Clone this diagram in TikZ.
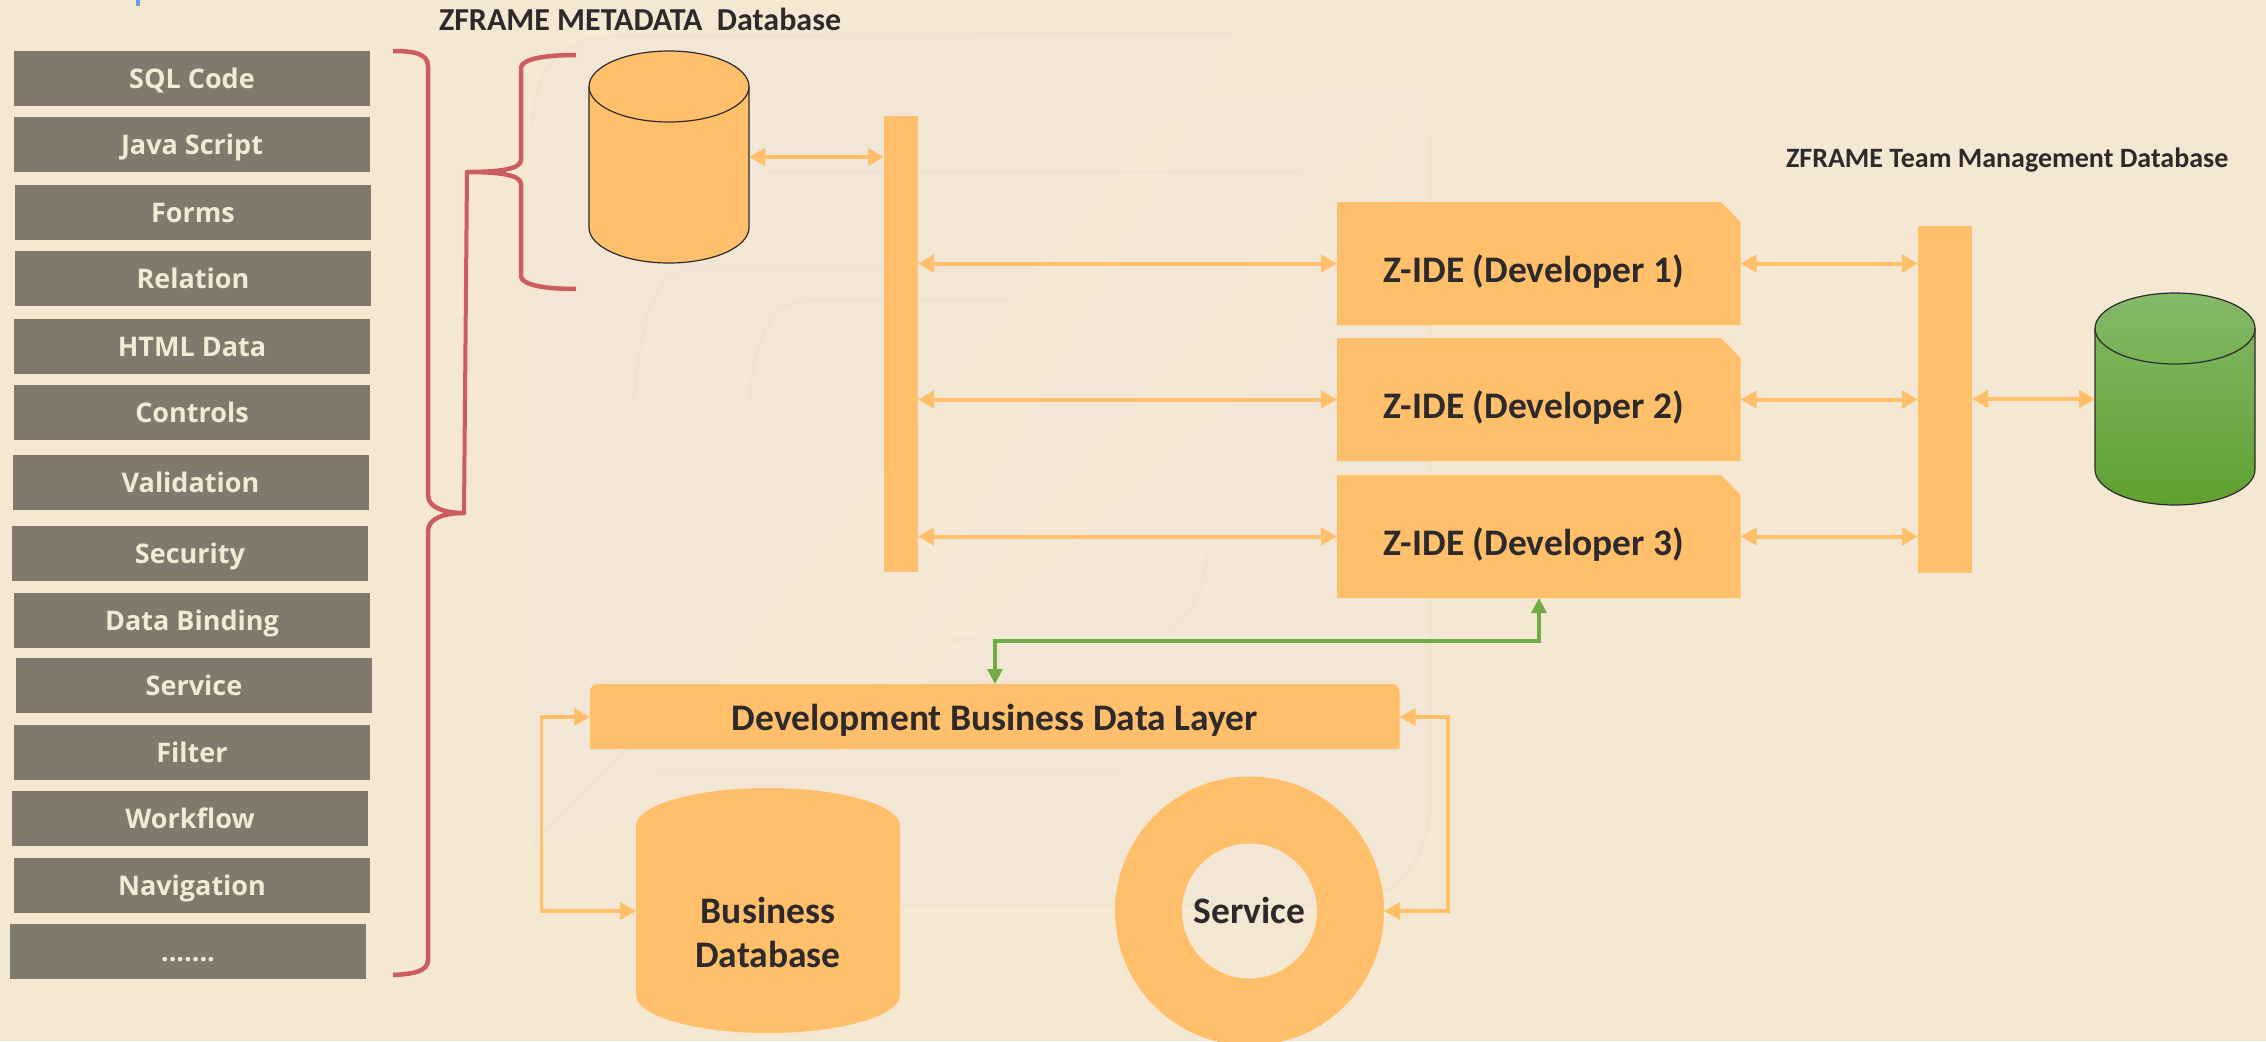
\documentclass[tikz,border=0pt]{standalone}
\usepackage{fontspec}
\setmainfont{Carlito}
\newfontfamily\boxfont{Open Sans}
\usetikzlibrary{arrows.meta}
\definecolor{pagebg}{HTML}{F5E8D3}
\definecolor{wmdark}{HTML}{F2E7D4}
\definecolor{wmline}{HTML}{EFE4D1}
\definecolor{orangefill}{HTML}{FFBF6B}
\definecolor{greybox}{HTML}{7F7A6D}
\definecolor{creamtext}{HTML}{F5E9D5}
\definecolor{darktext}{HTML}{2E2A2B}
\definecolor{bracered}{HTML}{CB5C5F}
\definecolor{greenline}{HTML}{70AD47}
\definecolor{tickblue}{HTML}{6D9EEB}
\definecolor{cyltop}{HTML}{84B968}
\definecolor{cylbot}{HTML}{5FA030}
\tikzset{
  anchorbox/.style={inner sep=0pt,outer sep=0pt,rectangle},
  greyitem/.style={anchorbox,fill=greybox,text=creamtext,minimum width=356pt,minimum height=55pt,text height=20.5pt,text depth=0pt,font=\boxfont\fontsize{27}{30}\selectfont\bfseries},
  titletext/.style={anchorbox,text=darktext,font=\fontsize{28}{32}\selectfont\bfseries},
  orangetext/.style={anchorbox,text=darktext,font=\fontsize{37.5}{44}\selectfont\bfseries,align=center},
  devtext/.style={orangetext,minimum width=403.5pt,minimum height=123pt,text height=38pt,text depth=0pt},
  dbl/.style={draw=orangefill,line width=4pt,{Triangle[length=16pt,width=17pt]}-{Triangle[length=16pt,width=17pt]}},
  dblgreen/.style={draw=greenline,line width=3.5pt,{Triangle[length=15pt,width=15pt]}-{Triangle[length=15pt,width=15pt]}},
  redline/.style={draw=bracered,line width=4.5pt,line join=round},
  barbox/.style={anchorbox,fill=orangefill},
  cylline/.style={draw=darktext,line width=1.2pt},
  wmstripe/.style={fill=pagebg,opacity=.7},
  wmedge/.style={draw=wmline,line width=3pt,line join=round}
}
\begin{document}
\begin{tikzpicture}[x=1pt,y=-1pt]
\useasboundingbox (0,0) rectangle (2266,1041);
\fill[pagebg] (0,0) rectangle (2266,1041);
% faint watermark
\fill[wmdark] (532,130) .. controls (532,70) and (560,36) .. (620,36) -- (1233,33) -- (1205,95) -- (1400,88)
  .. controls (1425,80) and (1430,100) .. (1430,130) -- (1430,800)
  .. controls (1430,870) and (1390,905) .. (1320,905) -- (700,905) -- (640,820) -- (538,845) -- (532,800) -- cycle;
\fill[wmstripe] (1160,120) -- (1195,120) -- (885,683) -- (715,690) -- (745,640) -- cycle;
\fill[wmstripe] (1393,110) -- (1418,100) -- (1290,350) -- (825,770) -- (880,690) -- cycle;
\draw[wmedge] (768,172) -- (1303,172);
\draw[wmedge] (634,400) .. controls (640,330) and (650,275) .. (690,267) -- (1030,267);
\draw[wmedge] (749,400) .. controls (755,345) and (765,303) .. (810,300) -- (1010,300);
\draw[wmedge] (653,770) -- (1125,770);
\draw[wmedge] (946,640) -- (1157,640) .. controls (1190,620) and (1205,590) .. (1208,550);
\draw[wmedge] (532,845) -- (634,743);
\draw[wmedge] (532,130) .. controls (532,70) and (560,36) .. (620,36) -- (1233,33);
\draw[wmedge] (700,905) -- (1320,905) .. controls (1390,905) and (1430,870) .. (1430,800) -- (1430,130);

\fill[tickblue] (136,0) rectangle (140,6);

% grey list
\node[greyitem] (i1) at (192,78.5) {SQL Code};
\node[greyitem] (i2) at (192,144.5) {Java Script};
\node[greyitem] (i3) at (193,212.5) {Forms};
\node[greyitem] (i4) at (193,278.5) {Relation};
\node[greyitem] (i5) at (192,346.5) {HTML Data};
\node[greyitem] (i6) at (192,412.5) {Controls};
\node[greyitem] (i7) at (190.5,482.5) {Validation};
\node[greyitem] (i8) at (190,553.5) {Security};
\node[greyitem] (i9) at (192,620.5) {Data Binding};
\node[greyitem] (i10) at (194,685.5) {Service};
\node[greyitem] (i11) at (192,752.5) {Filter};
\node[greyitem] (i12) at (190,818.5) {Workflow};
\node[greyitem] (i13) at (192,885.5) {Navigation};
\node[greyitem] (i14) at (188,951.5) {.......};

% braces
\draw[redline] (393,51) .. controls (412,51) and (428,53) .. (428,66) -- (428,495)
  .. controls (428,508) and (445,513) .. (464,513) .. controls (445,513) and (428,518) .. (428,531)
  -- (428,960) .. controls (428,972) and (412,974) .. (393,975);
\draw[redline] (576,55) .. controls (545,55) and (521,59) .. (521,68) -- (521,160)
  .. controls (521,170) and (495,172) .. (467,172) .. controls (495,172) and (521,174) .. (521,184)
  -- (521,276) .. controls (521,285) and (545,289) .. (576,289);
\draw[redline,line width=4pt] (467,172) -- (464,513);

% metadata database
\node[anchorbox,minimum width=160pt,minimum height=212pt] (meta) at (669,157) {};
\filldraw[fill=orangefill,cylline] (589,86.5) -- (589,227.5) arc[start angle=180,end angle=0,x radius=80,y radius=35.5] -- (749,86.5) arc[start angle=0,end angle=-180,x radius=80,y radius=35.5] -- cycle;
\draw[cylline] (589,86.5) arc[start angle=180,end angle=0,x radius=80,y radius=35.5];
\node[titletext,anchor=west,font=\fontsize{32}{36}\selectfont\bfseries] (metatitle) at (439,19) {ZFRAME METADATA\ \ Database};

% bars
\node[barbox,minimum width=34pt,minimum height=456pt] (bar1) at (901,344) {};
\node[barbox,minimum width=54pt,minimum height=347pt] (bar2) at (1945,399.5) {};

% developer boxes
\foreach \yt in {202,338,475}{
  \fill[orangefill] (1337,\yt) -- (1721,\yt) -- (1740.5,\yt+20) -- (1740.5,\yt+123) -- (1337,\yt+123) -- cycle;
}
\node[devtext] (dev1) at (1538.75,263.5) {\kern-10pt Z-IDE (Developer 1)};
\node[devtext] (dev2) at (1538.75,399.5) {\kern-10pt Z-IDE (Developer 2)};
\node[devtext] (dev3) at (1538.75,536.5) {\kern-10pt Z-IDE (Developer 3)};

% team database
\node[anchorbox,minimum width=160pt,minimum height=212pt] (team) at (2175,399) {};
\shade[top color=cyltop,bottom color=cylbot] (2095,328.5) -- (2095,469.5) arc[start angle=180,end angle=0,x radius=80,y radius=35.5] -- (2255,328.5) arc[start angle=0,end angle=-180,x radius=80,y radius=35.5] -- cycle;
\draw[cylline] (2095,328.5) -- (2095,469.5) arc[start angle=180,end angle=0,x radius=80,y radius=35.5] -- (2255,328.5) arc[start angle=0,end angle=-180,x radius=80,y radius=35.5] -- cycle;
\draw[cylline] (2095,328.5) arc[start angle=180,end angle=0,x radius=80,y radius=35.5];
\node[titletext,anchor=west] (teamtitle) at (1786,160) {ZFRAME Team Management Database};

% business layer
\fill[orangefill] (590,749) -- (590,692) .. controls (590,687) and (593,684) .. (598,684) -- (1392,684) .. controls (1397,684) and (1399.5,687) .. (1399.5,692) -- (1399.5,749) -- cycle;
\node[orangetext,minimum width=809.5pt,minimum height=65pt,text height=27pt,text depth=0pt] (layer) at (994.75,716.5) {Development Business Data Layer};

% business database
\fill[orangefill] (636,826) arc[start angle=180,end angle=360,x radius=132,y radius=38] -- (900,995) arc[start angle=0,end angle=180,x radius=132,y radius=38] -- cycle;
\node[anchorbox,minimum width=264pt,minimum height=245pt] (biz) at (768,911) {};
\node[orangetext] (biztext) at (768,932) {Business\\Database};

% service donut
\fill[orangefill,even odd rule] (1249.5,911) circle[radius=134.5] (1249.5,911) circle[radius=67.5];
\node[anchorbox,circle,minimum size=269pt,text height=24pt,text depth=0pt,text=darktext,font=\fontsize{37.5}{44}\selectfont\bfseries] (svc) at (1249.5,911) {Service};

% connectors
\draw[dbl] (meta.east) -- (bar1.west |- meta.east);
\draw[dbl] (bar1.east |- dev1.west) -- (dev1.west);
\draw[dbl] (bar1.east |- dev2.west) -- (dev2.west);
\draw[dbl] (bar1.east |- dev3.west) -- (dev3.west);
\draw[dbl] (dev1.east) -- (bar2.west |- dev1.east);
\draw[dbl] (dev2.east) -- (bar2.west |- dev2.east);
\draw[dbl] (dev3.east) -- (bar2.west |- dev3.east);
\draw[dbl] (bar2.east |- team.west) -- (team.west);
\coordinate (gl) at (995,641);
\coordinate (gr) at (1539,641);
\draw[dblgreen] (layer.north -| gl) -- (gl) -- (gr) -- (dev3.south -| gr);
\coordinate (lt) at (590,717);
\coordinate (lo) at (541.5,717);
\coordinate (lb) at (541.5,911);
\draw[dbl,line width=3.5pt] (lt) -- (lo) -- (lb) -- (biz.west);
\coordinate (rt) at (1399.5,717);
\coordinate (ro) at (1448,717);
\coordinate (rb) at (1448,911);
\draw[dbl,line width=3.5pt] (rt) -- (ro) -- (rb) -- (svc.east);
\end{tikzpicture}
\end{document}
